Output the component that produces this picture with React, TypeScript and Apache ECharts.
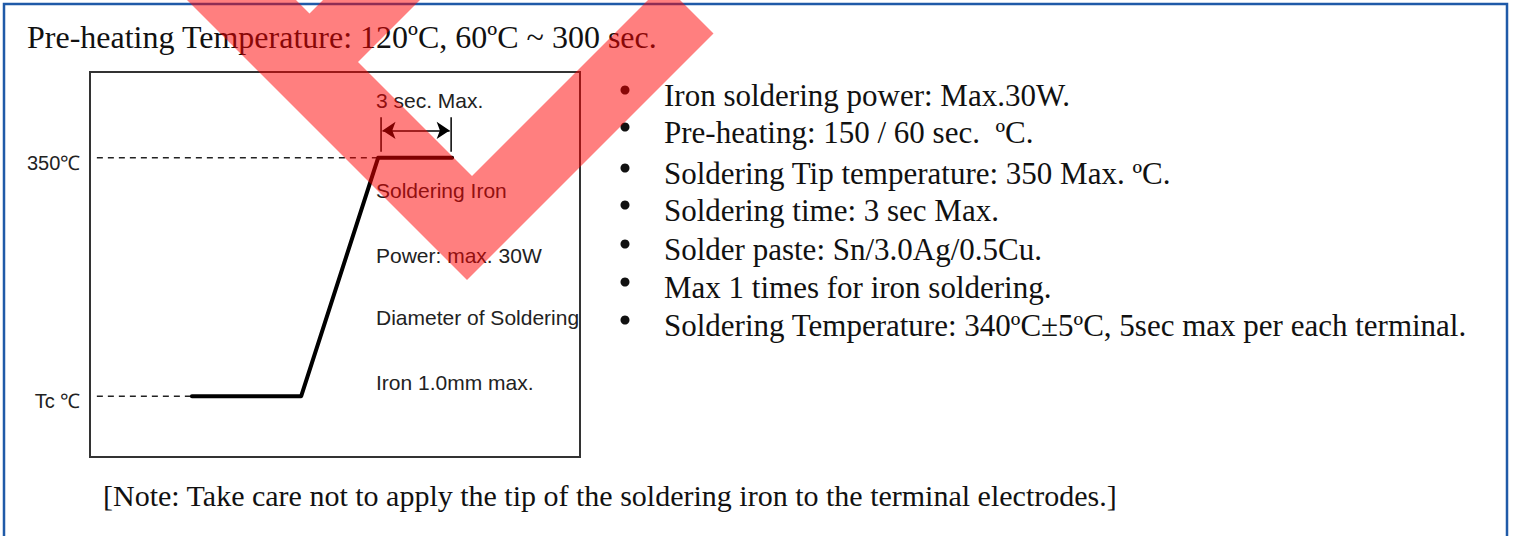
import { useEffect, useRef } from "react";
import * as echarts from "echarts";

// ---- data (schematic soldering-iron profile) ----
const profileTime = [20.8, 43.1, 58.8, 73.9]; // % of box width
const profileTemp = [150, 150, 350, 350]; // °C (Tc level shown as 150)
const dashStart = 1.4;
const levelTemps = [350, 150];
const levelEnds = [58.8, 20.8];
const levelLabels = ["350℃", "Tc ℃"];
const holdStart = 59.4;
const holdEnd = 73.7;
const holdTickTop = 384;
const holdTickBottom = 355;
const holdArrowTemp = 373;
const holdLabel = "3 sec. Max.";
const boxNotes = ["Soldering Iron", "Power: max. 30W", "Diameter of Soldering", "Iron 1.0mm max."];
const titleText = "Pre-heating Temperature: 120ºC, 60ºC ~ 300 sec.";
const bullets = [
  "Iron soldering power: Max.30W.",
  "Pre-heating: 150 / 60 sec.  ºC.",
  "Soldering Tip temperature: 350 Max. ºC.",
  "Soldering time: 3 sec Max.",
  "Solder paste: Sn/3.0Ag/0.5Cu.",
  "Max 1 times for iron soldering.",
  "Soldering Temperature: 340ºC±5ºC, 5sec max per each terminal.",
];
const noteText = "[Note: Take care not to apply the tip of the soldering iron to the terminal electrodes.]";

// ---- layout ----
const W = 1514;
const H = 536;
const SERIF = "'Liberation Serif', 'Times New Roman', serif";
const SANS = "'Liberation Sans', Arial, sans-serif";
const bulletY = [95, 132, 173, 210, 249, 287, 325];
const boxNoteY = [190, 255, 317, 382];
const watermark = [
  [187, 0], [467, 280], [713.5, 33.5], [680, 0], [648, 0], [472, 176],
  [358, 62], [420, 0], [323, 0], [309.5, 13.5], [296, 0],
];

export default function App() {
  const ref = useRef<HTMLDivElement>(null);
  useEffect(() => {
    if (!ref.current) return;
    const chart = echarts.init(ref.current, undefined, { renderer: "svg" });
    const lineSeries = (data: any[], style: any, z = 2, extra: any = {}) => ({
      type: "line",
      data,
      symbol: "none",
      silent: true,
      lineStyle: style,
      z,
      ...extra,
    });
    const levelSeries = levelTemps.map((t, i) =>
      lineSeries(
        [
          {
            value: [dashStart, t],
            symbol: "circle",
            symbolSize: 1,
            itemStyle: { color: "rgba(0,0,0,0)" },
            label: {
              show: true,
              position: "left",
              distance: 16,
              offset: [0, 5],
              formatter: levelLabels[i],
              color: "#222",
              fontFamily: SANS,
              fontSize: 20,
            },
          },
          [levelEnds[i], t],
        ],
        { color: "#222", width: 1.5, type: [6, 5] },
        1
      )
    );
    const graphic: any[] = [
      {
        type: "rect",
        shape: { x: 4, y: 4, width: 1503, height: 600 },
        style: { fill: "transparent", stroke: "#1f5aa8", lineWidth: 2.5 },
        z: 0,
      },
      {
        type: "text",
        x: 27,
        y: 37,
        style: { text: titleText, font: `32px ${SERIF}`, fill: "#111", textVerticalAlign: "middle" },
      },
      {
        type: "text",
        x: 376,
        y: 100,
        style: { text: holdLabel, font: `21px ${SANS}`, fill: "#222", textVerticalAlign: "middle" },
      },
      ...boxNotes.map((t, i) => ({
        type: "text",
        x: 376,
        y: boxNoteY[i],
        style: { text: t, font: `21px ${SANS}`, fill: "#222", textVerticalAlign: "middle" },
      })),
      ...bullets.map((t, i) => ({
        type: "circle",
        shape: { cx: 625, cy: bulletY[i] - 5, r: 4.5 },
        style: { fill: "#111" },
      })),
      ...bullets.map((t, i) => ({
        type: "text",
        x: 664,
        y: bulletY[i],
        style: { text: t, font: `31px ${SERIF}`, fill: "#111", textVerticalAlign: "middle" },
      })),
      {
        type: "text",
        x: 103,
        y: 495,
        style: { text: noteText, font: `30px ${SERIF}`, fill: "#111", textVerticalAlign: "middle" },
      },
      {
        type: "polygon",
        shape: { points: watermark },
        style: { fill: "rgba(255,0,0,0.5)" },
        z: 100,
        zlevel: 0,
      },
    ];
    chart.setOption({
      animation: false,
      grid: {
        left: 90,
        top: 72,
        width: 490,
        height: 385,
        show: true,
        borderColor: "#333",
        borderWidth: 2,
        backgroundColor: "transparent",
      },
      xAxis: { type: "value", min: 0, max: 100, show: false },
      yAxis: { type: "value", min: 99, max: 422, show: false },
      series: [
        ...levelSeries,
        lineSeries(
          profileTime.map((x, i) => [x, profileTemp[i]]),
          { color: "#000", width: 4, cap: "round", join: "round" },
          3
        ),
        lineSeries(
          [[holdStart, holdTickTop], [holdStart, holdTickBottom]],
          { color: "#000", width: 1.5 },
          3,
          {
            markLine: {
              silent: true,
              symbol: ["arrow", "arrow"],
              symbolSize: 13,
              label: { show: false },
              lineStyle: { color: "#000", width: 1.5, type: "solid" },
              data: [[{ coord: [holdStart + 0.3, holdArrowTemp] }, { coord: [holdEnd - 0.3, holdArrowTemp] }]],
            },
          }
        ),
        lineSeries(
          [[holdEnd, holdTickTop], [holdEnd, holdTickBottom]],
          { color: "#000", width: 1.5 },
          3
        ),
      ],
      graphic,
    });
    return () => chart.dispose();
  }, []);
  return (
    <div
      ref={ref}
      style={{ position: "fixed", left: 0, top: 0, width: W, height: H, background: "#fff" }}
    />
  );
}
